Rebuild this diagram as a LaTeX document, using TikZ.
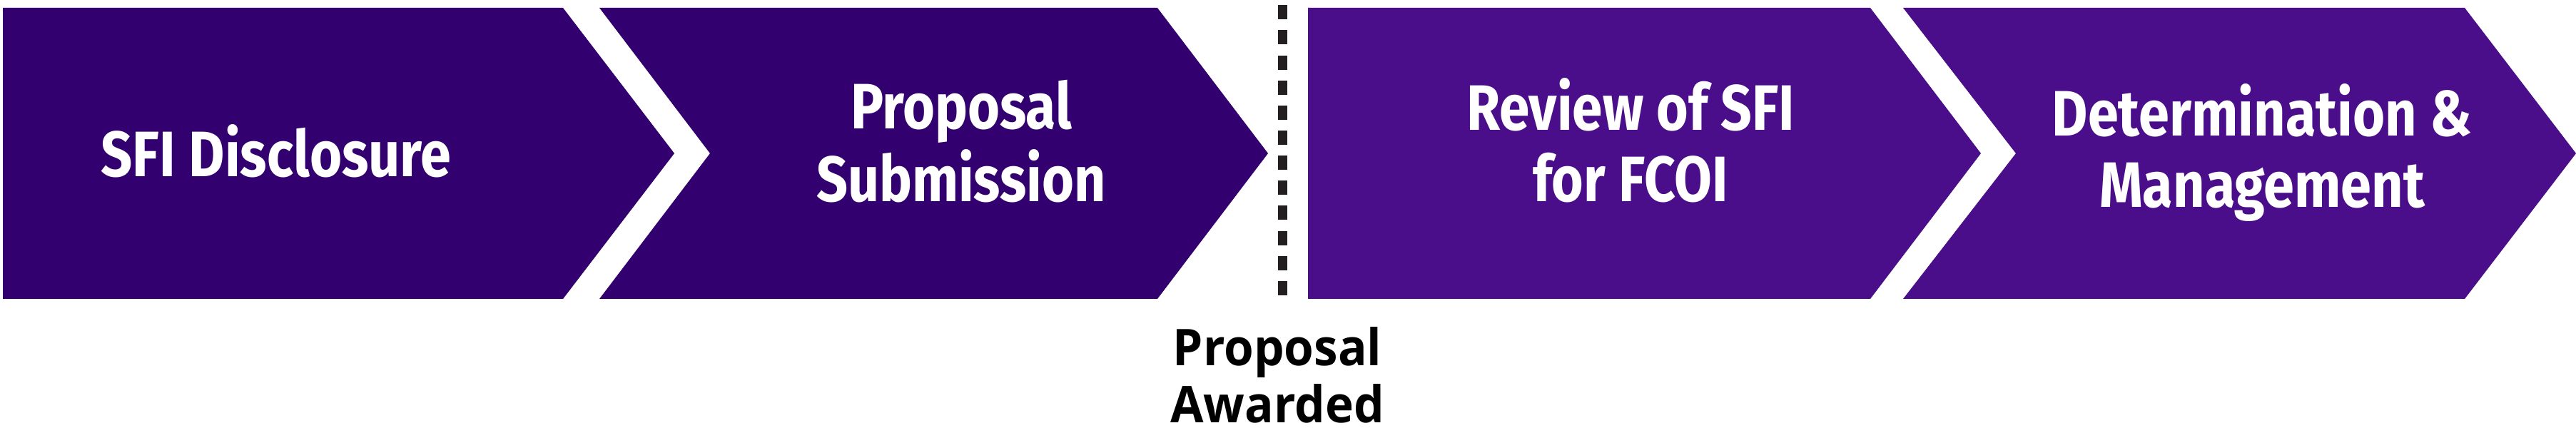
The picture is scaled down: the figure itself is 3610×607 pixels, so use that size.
\documentclass[tikz,border=0pt]{standalone}
\usepackage{fontspec}
\usepackage{graphicx}
\newfontfamily\whitefont{Fira Sans}
\newfontfamily\blackfont{Open Sans}
\definecolor{darkpurple}{RGB}{51,0,111}
\definecolor{midpurple}{RGB}{74,14,138}
\definecolor{dashgray}{RGB}{35,31,32}
\newcommand{\squeezedlines}[2]{\scalebox{#1}[1]{\begin{tabular}[b]{@{}c@{}}#2\end{tabular}}}
\tikzset{
  stagetext/.style={text=white, anchor=base, inner sep=0pt,
    font=\whitefont\bfseries\fontsize{90}{100}\selectfont},
  awardtext/.style={text=black, anchor=base, inner sep=0pt,
    font=\blackfont\bfseries\fontsize{71}{80}\selectfont},
  divider/.style={draw=dashgray, line width=13pt, dash pattern=on 20pt off 15.15pt}
}
\begin{document}
\begin{tikzpicture}[x=1pt,y=1pt]
\useasboundingbox (0,0) rectangle (3610,607);
\fill[white] (0,0) rectangle (3610,607);
% chevrons
\fill[darkpurple] (4,596) -- (789,596) -- (945,392) -- (789,188) -- (4,188) -- cycle;
\fill[darkpurple] (840,596) -- (1622,596) -- (1777,392) -- (1622,188) -- (840,188) -- (995,392) -- cycle;
\fill[midpurple] (1833,596) -- (2621,596) -- (2776,392) -- (2621,188) -- (1833,188) -- cycle;
\fill[midpurple] (2667,596) -- (3454,596) -- (3610,392) -- (3454,188) -- (2667,188) -- (2825,392) -- cycle;
% divider
\coordinate (dtop) at (1797.5,599.7);
\coordinate (dbot) at (1797.5,190);
\draw[divider] (dtop) -- (dbot);
% labels
\node[stagetext] (s1) at (387,359) {\squeezedlines{0.86}{SFI Disclosure}};
\node[stagetext] (s2) at (1347,324) {\squeezedlines{0.856}{Proposal\\Submission}};
\node[stagetext] (s3) at (2285,324) {\squeezedlines{0.85}{Review of SFI\\for FCOI}};
\node[stagetext] (s4) at (3170,316) {\squeezedlines{0.86}{Determination \&\\Management}};
\node[awardtext] (aw) at (1790,14) {\squeezedlines{0.95}{Proposal\\Awarded}};
\end{tikzpicture}
\end{document}
